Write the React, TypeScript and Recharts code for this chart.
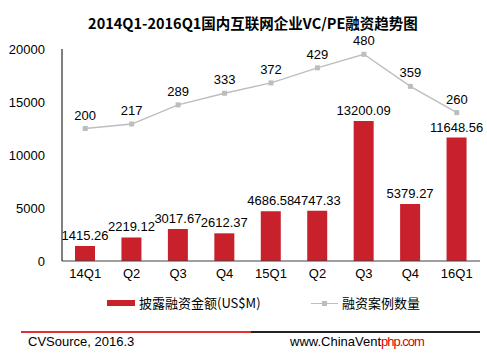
import { ComposedChart, Bar, Line, XAxis, YAxis, LabelList } from 'recharts'

const quarters = ['14Q1', 'Q2', 'Q3', 'Q4', '15Q1', 'Q2 ', 'Q3 ', 'Q4 ', '16Q1']
const amounts = [1415.26, 2219.12, 3017.67, 2612.37, 4686.58, 4747.33, 13200.09, 5379.27, 11648.56]
const amountLabels = ['1415.26', '2219.12', '3017.67', '2612.37', '4686.58', '4747.33', '13200.09', '5379.27', '11648.56']
const caseCounts = [200, 217, 289, 333, 372, 429, 480, 359, 260]
const leftTicks = [0, 5000, 10000, 15000, 20000]

const data = quarters.map((q, i) => ({
  quarter: q,
  amount: amounts[i],
  amountLabel: amountLabels[i],
  cases: caseCounts[i],
}))

const RED = '#C9212B'
const GRAY = '#BDBDBD'
const FONT = '"Liberation Sans", Arial, sans-serif'
const CJK = '"Noto Sans CJK SC", "Liberation Sans", sans-serif'

function SquareDot(props: any) {
  const { cx, cy } = props
  if (cx == null || cy == null) return null
  return <rect x={cx - 2.5} y={cy - 2.5} width={5} height={5} fill={GRAY} />
}

export default function App() {
  return (
    <div style={{ position: 'absolute', left: 0, top: 0, width: 487, height: 360, background: '#fff' }}>
      <div
        style={{
          position: 'absolute',
          left: 0,
          top: 15,
          width: 506,
          textAlign: 'center',
          fontFamily: CJK,
          fontWeight: 700,
          fontSize: 14.5,
          lineHeight: '15px',
          color: '#000',
        }}
      >
        2014Q1-2016Q1国内互联网企业VC/PE融资趋势图
      </div>
      <ComposedChart
        width={487}
        height={360}
        data={data}
        margin={{ top: 49, right: 7, left: 0, bottom: 69 }}
        style={{ fontFamily: FONT }}
      >
        <XAxis
          dataKey="quarter"
          tickLine={false}
          axisLine={{ stroke: '#404040' }}
          tick={{ fill: '#000', fontSize: 13, fontFamily: FONT }}
          height={30}
          interval={0}
        />
        <YAxis
          yAxisId="left"
          width={62}
          domain={[0, 20000]}
          ticks={leftTicks}
          tickLine={false}
          tickMargin={11}
          axisLine={{ stroke: '#000' }}
          tick={{ fill: '#000', fontSize: 13, fontFamily: FONT }}
        />
        <YAxis yAxisId="right" orientation="right" domain={[-300, 500]} hide />
        <Bar yAxisId="left" dataKey="amount" fill={RED} barSize={20} isAnimationActive={false}>
          <LabelList dataKey="amountLabel" position="top" offset={6} fill="#000" fontSize={13} fontFamily={FONT} />
        </Bar>
        <Line
          yAxisId="right"
          dataKey="cases"
          stroke={GRAY}
          strokeWidth={1.3}
          dot={<SquareDot />}
          isAnimationActive={false}
        >
          <LabelList dataKey="cases" position="top" offset={9} fill="#000" fontSize={13} fontFamily={FONT} />
        </Line>
      </ComposedChart>
      {/* legend */}
      <div style={{ position: 'absolute', left: 107, top: 300, width: 28, height: 6, background: RED }} />
      <div style={{ position: 'absolute', left: 139, top: 294, fontFamily: CJK, fontSize: 13, lineHeight: '18px' }}>
        披露融资金额(US$M)
      </div>
      <div style={{ position: 'absolute', left: 311, top: 303, width: 27, height: 1, background: GRAY }} />
      <div style={{ position: 'absolute', left: 322, top: 301, width: 5, height: 5, background: GRAY }} />
      <div style={{ position: 'absolute', left: 342, top: 294, fontFamily: CJK, fontSize: 13, lineHeight: '18px' }}>
        融资案例数量
      </div>
      {/* footer */}
      <div style={{ position: 'absolute', left: 21, top: 331, width: 230, height: 2, background: '#E03030' }} />
      <div style={{ position: 'absolute', left: 251, top: 331, width: 229, height: 2, background: '#222' }} />
      <div style={{ position: 'absolute', left: 28, top: 334, fontFamily: FONT, fontSize: 13, lineHeight: '16px' }}>
        CVSource, 2016.3
      </div>
      <div style={{ position: 'absolute', left: 290, top: 334, fontFamily: FONT, fontSize: 13, lineHeight: '16px' }}>
        www.ChinaVent<span style={{ color: '#E00000', letterSpacing: -1 }}>php.com</span>
      </div>
    </div>
  )
}
